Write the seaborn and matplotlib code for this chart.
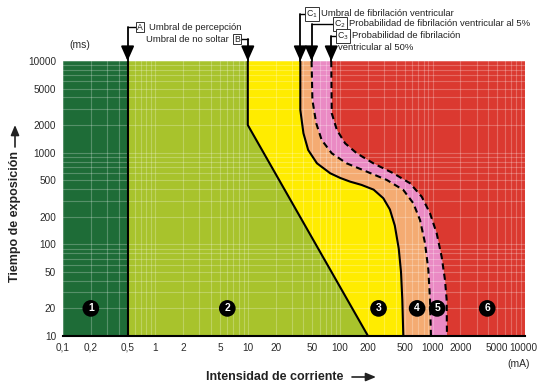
import numpy as np
import matplotlib
matplotlib.use("Agg")
import matplotlib.pyplot as plt
import matplotlib.transforms as mtransforms
import seaborn as sns

# Time/current zones (IEC 60479)
# current in mA, time in ms
x_ticks = [0.1, 0.2, 0.5, 1, 2, 5, 10, 20, 50, 100, 200, 500, 1000, 2000, 5000, 10000]
x_tick_labels = ["0,1", "0,2", "0,5", "1", "2", "5", "10", "20", "50", "100", "200",
                 "500", "1000", "2000", "5000", "10000"]
y_ticks = [10, 20, 50, 100, 200, 500, 1000, 2000, 5000, 10000]
y_tick_labels = [str(v) for v in y_ticks]

# curve a: perception threshold
a_I = [0.5, 0.5]
a_t = [10000, 10]
# curve b: let-go threshold
b_I = [10, 10, 200]
b_t = [10000, 2000, 10]
# curve c1: fibrillation threshold
c1_I = [37, 37, 40, 45, 56, 78, 100, 128, 170, 230, 293, 345, 390, 430, 455, 470, 482]
c1_t = [10000, 2925, 1630, 1070, 766, 596, 530, 483, 445, 395, 318, 240, 160, 90, 50, 25, 10]
# curve c2: 5 % probability
c2_I = [49, 50, 55, 63, 81, 117, 194, 319, 482, 618, 731, 828, 899, 937, 960]
c2_t = [10000, 3760, 2094, 1375, 985, 766, 621, 504, 392, 281, 184, 103, 53, 25, 10]
# curve c3: 50 % probability
c3_I = [80, 81, 92, 113, 151, 228, 376, 569, 762, 937, 1107, 1253, 1361, 1419, 1430]
c3_t = [10000, 2690, 1770, 1266, 985, 766, 596, 464, 331, 218, 132, 73, 41, 25, 10]

zone_labels = ["1", "2", "3", "4", "5", "6"]
zone_x = [0.2, 6, 260, 680, 1120, 3900]
zone_y = [20, 20, 20, 20, 20, 20]
zone_colors = ["#1e6c37", "#a8c32c", "#ffec00", "#f4ab72", "#ea8ac4", "#db3930"]

x_min, x_max = 0.1, 10000
y_min, y_max = 10, 10000

W, H = 537, 383


def fx(px):
    return px / W


def fy(py):
    return 1 - py / H


sns.set_theme(style="white")
plt.rcParams["font.family"] = ["Liberation Sans", "DejaVu Sans"]

fig = plt.figure(figsize=(W / 100, H / 100), dpi=100)
ax = fig.add_axes([fx(63), fy(336), fx(525) - fx(63), fy(61) - fy(336)])
ax.set_xscale("log")
ax.set_yscale("log")

# filled zones, each one between two boundary curves
bounds = [
    ([x_min, x_min], [y_max, y_min]),
    (a_I, a_t),
    (b_I, b_t),
    (c1_I, c1_t),
    (c2_I, c2_t),
    (c3_I, c3_t),
    ([x_max, x_max], [y_max, y_min]),
]
for i in range(6):
    left_I, left_t = bounds[i]
    right_I, right_t = bounds[i + 1]
    xs = list(left_I) + list(right_I)[::-1]
    ys = list(left_t) + list(right_t)[::-1]
    ax.fill(xs, ys, color=zone_colors[i], lw=0, zorder=1)

# boundary curves
for I, t, dashed in [(a_I, a_t, False), (b_I, b_t, False), (c1_I, c1_t, False),
                     (c2_I, c2_t, True), (c3_I, c3_t, True)]:
    sns.lineplot(x=I, y=t, sort=False, estimator=None, color="black",
                 lw=1.5, ax=ax, zorder=3,
                 linestyle=(0, (3, 2)) if dashed else "-")

ax.set_xlim(x_min, x_max)
ax.set_ylim(y_min, y_max)
ax.set_xticks(x_ticks)
ax.set_xticklabels(x_tick_labels)
ax.set_yticks(y_ticks)
ax.set_yticklabels(y_tick_labels)
ax.minorticks_on()
ax.tick_params(which="both", length=0, labelsize=7.2, colors="#2a2a2a")
ax.tick_params(axis="x", pad=5)
ax.tick_params(axis="y", pad=5)
# last x label sits close to the figure edge
last = ax.get_xticklabels()[-1]
last.set_transform(last.get_transform() +
                   mtransforms.ScaledTranslation(-1.5 / 100, 0, fig.dpi_scale_trans))
ax.set_axisbelow("line")
ax.grid(which="both", color="white", alpha=0.25, lw=0.8)
for s in ["top", "right", "left"]:
    ax.spines[s].set_visible(False)
ax.spines["bottom"].set_color("black")
ax.spines["bottom"].set_linewidth(1.5)
ax.set_xlabel("")
ax.set_ylabel("")

# zone numbers
for lab, zx, zy in zip(zone_labels, zone_x, zone_y):
    ax.text(zx, zy, lab, color="white", fontsize=7.5, fontweight="bold",
            ha="center", va="center", zorder=5,
            bbox=dict(boxstyle="circle,pad=0.32", fc="black", ec="none"))

# units and axis titles
fig.text(fx(80), fy(45), "(ms)", fontsize=7.5, ha="center", va="center", color="#2a2a2a")
fig.text(fx(519), fy(364), "(mA)", fontsize=7.5, ha="center", va="center", color="#2a2a2a")
fig.text(fx(275), fy(377), "Intensidad de corriente", fontsize=9, fontweight="bold",
         ha="center", va="center", color="#222222")
fig.text(fx(15), fy(217), "Tiempo de exposición", fontsize=9, fontweight="bold",
         ha="center", va="center", rotation=90, color="#222222")
arrow_kw = dict(arrowstyle="-|>,head_length=0.6,head_width=0.25", color="#222222",
                lw=1.2, shrinkA=0, shrinkB=0, mutation_scale=10)
fig.add_artist(matplotlib.patches.FancyArrowPatch(
    (fx(352), fy(377)), (fx(376), fy(377)), transform=fig.transFigure, **arrow_kw))
fig.add_artist(matplotlib.patches.FancyArrowPatch(
    (fx(15), fy(147)), (fx(15), fy(125)), transform=fig.transFigure, **arrow_kw))

# threshold markers above the chart
trans = mtransforms.blended_transform_factory(ax.transData, fig.transFigure)
box_kw = dict(boxstyle="square,pad=0.1", fc="white", ec="#333333", lw=0.7)
head_kw = dict(arrowstyle="-|>,head_length=0.9,head_width=0.4", color="black",
               lw=1.3, shrinkA=0, shrinkB=0, mutation_scale=10)
markers = [
    # curve x, bracket y, box x, box label, text, side
    (a_I[0], 27, 140, "A", "Umbral de percepción", "right"),
    (b_I[0], 39, 237, "B", "Umbral de no soltar", "left"),
    (c1_I[0], 14, 312, "C$_1$", "Umbral de fibrilación ventricular", "right"),
    (c2_I[0], 24, 340, "C$_2$", "Probabilidad de fibrilación ventricular al 5%", "right"),
    (c3_I[0], 36, 343, "C$_3$", "Probabilidad de fibrilación", "right"),
]
for cx, by, bx, blab, txt, side in markers:
    ax.plot([cx, cx], [fy(by), fy(61)], transform=trans, color="black", lw=1.3,
            clip_on=False, zorder=6)
    ax.annotate("", xy=(cx, fy(61)), xytext=(cx, fy(48)), xycoords=trans,
                textcoords=trans, arrowprops=head_kw, annotation_clip=False)
    px_curve = ax.transData.transform((cx, 100))[0]
    ax.plot([px_curve / W, fx(bx)], [fy(by), fy(by)], transform=fig.transFigure,
            color="black", lw=1.0, clip_on=False)
    fig.text(fx(bx), fy(by), blab, fontsize=6.3, ha="center", va="center",
             color="#222222", bbox=box_kw, zorder=7)
    if side == "right":
        fig.text(fx(bx + 9), fy(by), txt, fontsize=6.8, ha="left", va="center",
                 color="#222222")
    else:
        fig.text(fx(bx - 8), fy(by), txt, fontsize=6.8, ha="right", va="center",
                 color="#222222")
fig.text(fx(338), fy(47), "ventricular al 50%", fontsize=6.8, ha="left", va="center",
         color="#222222")

fig.savefig("out.png", dpi=100)
